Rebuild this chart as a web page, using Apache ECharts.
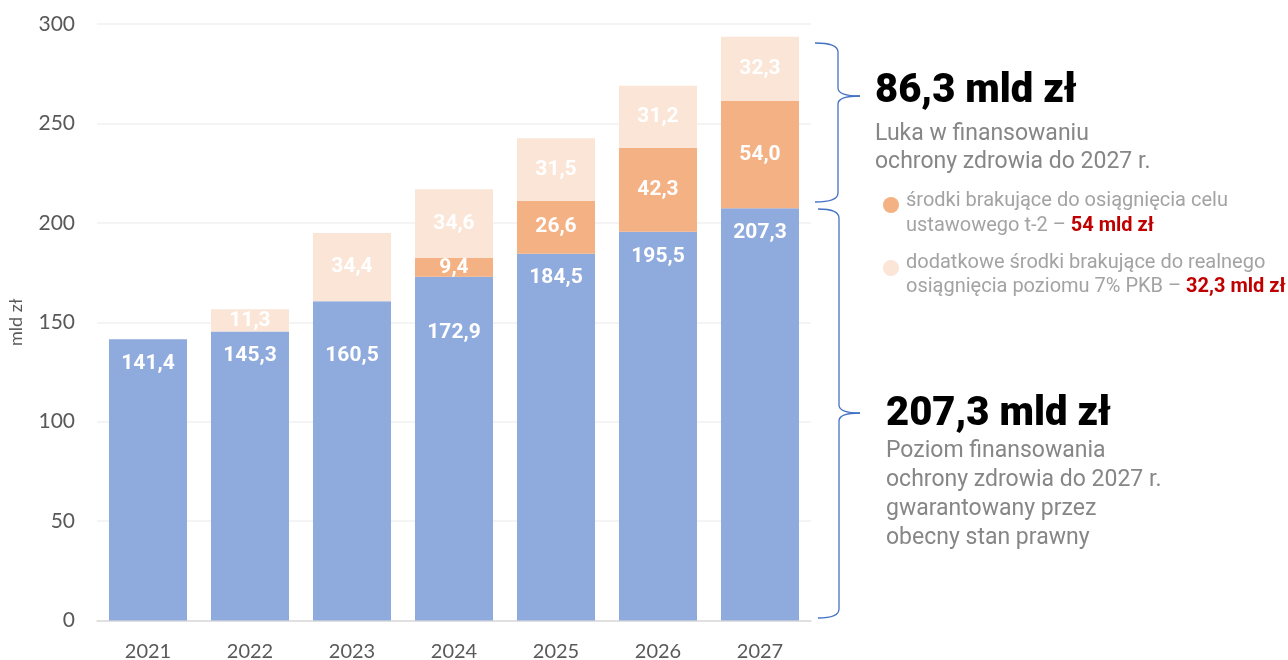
<!DOCTYPE html>
<html><head><meta charset="utf-8">
<script src="https://cdn.jsdelivr.net/npm/echarts@6/dist/echarts.min.js"></script>
<style>html,body{margin:0;padding:0;background:#fff}#c{width:1288px;height:660px}</style>
</head><body><div id="c"></div>
<script>
const years = ['2021','2022','2023','2024','2025','2026','2027'];
const baseFunding = [141.4, 145.3, 160.5, 172.9, 184.5, 195.5, 207.3];
const statutoryGap = [null, null, null, 9.4, 26.6, 42.3, 54.0];
const realGap = [null, 11.3, 34.4, 34.6, 31.5, 31.2, 32.3];
const yTicks = {min: 0, max: 300, interval: 50};

const fmt = v => v.toFixed(1).replace('.', ',');
const lbl = {show: true, position: 'inside', color: '#fff', fontFamily: 'Roboto', fontWeight: 'bold', fontSize: 21,
  formatter: p => (p.value == null ? '' : fmt(p.value))};
// label placement of the base bars (a few sit lower in the original)
const baseLabelDrop = [0, 0, 30, 32, 0, 0, 0];
const baseData = baseFunding.map((v, i) => ({value: v, label: {offset: [0, baseLabelDrop[i]]}}));

const braceColor = '#4472C4';
const grey = '#868686';
const lgrey = '#a3a3a3';

function brace(xEnd, xV, xTip, yTop, yTip, yBot) {
  const st = {fill: null, stroke: braceColor, lineWidth: 1.3};
  const r = 9;
  return [
    {type: 'bezierCurve', shape: {x1: xEnd, y1: yTop, x2: xV, y2: yTop + r, cpx1: xV, cpy1: yTop}, style: st},
    {type: 'line', shape: {x1: xV, y1: yTop + r, x2: xV, y2: yTip - 8}, style: st},
    {type: 'bezierCurve', shape: {x1: xV, y1: yTip - 8, x2: xTip, y2: yTip, cpx1: xV, cpy1: yTip}, style: st},
    {type: 'bezierCurve', shape: {x1: xTip, y1: yTip, x2: xV, y2: yTip + 8, cpx1: xV, cpy1: yTip}, style: st},
    {type: 'line', shape: {x1: xV, y1: yTip + 8, x2: xV, y2: yBot - r}, style: st},
    {type: 'bezierCurve', shape: {x1: xV, y1: yBot - r, x2: xEnd, y2: yBot, cpx1: xV, cpy1: yBot}, style: st}
  ];
}

const chart = echarts.init(document.getElementById('c'));
chart.setOption({
  animation: false,
  grid: {left: 97, right: 477, top: 24, bottom: 39.5, outerBoundsMode: 'none', containLabel: false},
  xAxis: {type: 'category', data: years,
    axisLine: {lineStyle: {color: '#d9d9d9', width: 1.5}}, axisTick: {show: false},
    axisLabel: {color: '#595959', fontSize: 20, fontFamily: 'Lato', margin: 21}},
  yAxis: {type: 'value', min: yTicks.min, max: yTicks.max, interval: yTicks.interval,
    name: 'mld zł', nameLocation: 'middle', nameGap: 72, nameRotate: 90,
    nameTextStyle: {color: '#595959', fontSize: 18, fontFamily: 'Lato'},
    axisLabel: {color: '#595959', fontSize: 21, fontFamily: 'Lato', margin: 22},
    splitLine: {lineStyle: {color: '#f0f0f0', width: 1.5}}},
  series: [
    {type: 'bar', stack: 's', data: baseData, barCategoryGap: '23.5%', itemStyle: {color: '#8FAADC'},
      label: Object.assign({}, lbl, {position: 'insideTop', distance: 14})},
    {type: 'bar', stack: 's', data: statutoryGap, itemStyle: {color: '#F4B183'}, label: lbl},
    {type: 'bar', stack: 's', data: realGap, itemStyle: {color: '#FBE5D6'}, label: lbl}
  ],
  graphic: [].concat(
    brace(815, 838, 860, 43, 96, 202),
    brace(818, 839, 860, 209, 413, 618),
    [
    {type: 'text', x: 875, y: 92, style: {text: '86,3 mld zł', fill: '#000', fontFamily: 'Roboto', fontWeight: 900, fontSize: 40, verticalAlign: 'middle'}},
    {type: 'text', x: 875, y: 120, style: {text: 'Luka w finansowaniu\nochrony zdrowia do 2027 r.', fill: grey, fontFamily: 'Roboto', fontSize: 23, lineHeight: 28, verticalAlign: 'top'}},
    {type: 'circle', shape: {cx: 891, cy: 205, r: 8}, style: {fill: '#F4B183'}},
    {type: 'text', x: 906, y: 188, style: {text: 'środki brakujące do osiągnięcia celu\nustawowego t-2 – {r|54 mld zł}', fill: lgrey, fontFamily: 'Roboto', fontSize: 20, lineHeight: 25, verticalAlign: 'top',
      rich: {r: {fill: '#C00000', fontFamily: 'Roboto', fontWeight: 'bold', fontSize: 20, lineHeight: 25}}}},
    {type: 'circle', shape: {cx: 891, cy: 268, r: 8}, style: {fill: '#FBE5D6'}},
    {type: 'text', x: 906, y: 251, style: {text: 'dodatkowe środki brakujące do realnego\nosiągnięcia poziomu 7% PKB – {r|32,3 mld zł}', fill: lgrey, fontFamily: 'Roboto', fontSize: 20, lineHeight: 24, verticalAlign: 'top',
      rich: {r: {fill: '#C00000', fontFamily: 'Roboto', fontWeight: 'bold', fontSize: 20, lineHeight: 24}}}},
    {type: 'text', x: 886, y: 415, style: {text: '207,3 mld zł', fill: '#000', fontFamily: 'Roboto', fontWeight: 900, fontSize: 40, verticalAlign: 'middle'}},
    {type: 'text', x: 886, y: 437, style: {text: 'Poziom finansowania\nochrony zdrowia do 2027 r.\ngwarantowany przez\nobecny stan prawny', fill: grey, fontFamily: 'Roboto', fontSize: 23, lineHeight: 29, verticalAlign: 'top'}}
    ])
});
</script></body></html>
